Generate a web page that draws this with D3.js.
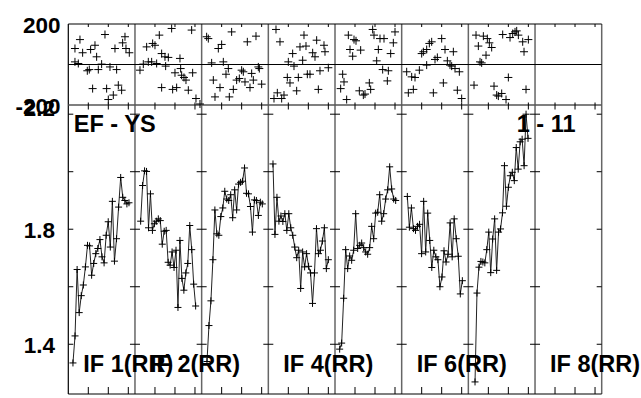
<!DOCTYPE html>
<html><head><meta charset="utf-8">
<script src="https://cdn.jsdelivr.net/npm/d3@7"></script>
<style>html,body{margin:0;padding:0;background:#fff;}svg{display:block;}</style>
</head><body>
<script>
// ---------- data ----------
const ifLabels = ["IF 1(RR)", "IF 2(RR)", "", "IF 4(RR)", "", "IF 6(RR)", "", "IF 8(RR)"];
const titleLeft = "EF - YS";
const titleRight = "1 - 11";
const topTicks = [200, -200];
const bottomTicks = [1.4, 1.6, 1.8, 2.0, 2.2];
const bottomTickLabels = ["1.4", "", "1.8", "", "2.2"];
const timeTicks = [3, 6, 9];

// bottom panel amplitudes per IF column
const amp1 = [1.335,1.429,1.660,1.510,1.569,1.606,1.669,1.744,1.742,1.640,1.681,1.715,1.733,1.764,1.704,1.683,1.779,1.826,1.738,1.897,1.689,1.767,1.877,1.980,1.911,1.900,1.888,1.892];
const amp2 = [1.828,1.952,2.003,2.001,1.805,1.923,1.796,1.819,1.828,1.836,1.830,1.748,1.793,1.796,1.685,1.675,1.721,1.667,1.727,1.528,1.761,1.629,1.588,1.648,1.681,1.813,1.729,1.609,1.533];
const amp3 = [1.340,1.465,1.551,1.694,1.867,1.784,1.779,1.844,1.874,1.932,1.905,1.900,1.920,1.840,1.937,1.867,1.957,1.963,1.967,2.013,1.925,1.923,1.879,1.790,1.902,1.900,1.848,1.894,1.888];
const amp4 = [2.027,1.782,1.911,1.828,1.846,1.827,1.854,1.796,1.854,1.805,1.779,1.738,1.701,1.727,1.594,1.721,1.669,1.715,1.671,1.648,1.542,1.648,1.802,1.715,1.727,1.759,1.805,1.663,1.694];
const amp5 = [1.383,1.404,1.560,1.729,1.663,1.707,1.692,1.727,1.854,1.733,1.744,1.752,1.736,1.721,1.713,1.736,1.810,1.767,1.856,1.859,1.920,1.828,1.854,1.905,1.937,2.017,1.940,1.905,1.900];
const amp6 = [1.914,1.807,1.874,1.802,1.796,1.810,1.817,1.715,1.897,1.721,1.856,1.761,1.667,1.727,1.704,1.694,1.600,1.634,1.725,1.686,1.713,1.822,1.704,1.836,1.767,1.706,1.575,1.621];
const amp7 = [1.269,1.578,1.668,1.688,1.686,1.683,1.729,1.790,1.649,1.766,1.836,1.657,1.790,1.801,1.857,2.021,1.880,1.946,1.986,1.998,1.969,2.084,2.009,2.104,2.113,2.021,2.200,2.116];
const amp8 = [];
const ampStart = [0.7, 0.85, 0.8, 0.7, 0.7, 0.85, 1.0, 0];
const ampEnd   = [9.1, 9.1, 9.1, 9.0, 9.1, 9.1, 8.95, 0];

// top panel residuals: times and values per IF column
const resT1 = [1.0,1.0,1.5,1.75,2.15,2.85,3.15,3.35,3.65,4.0,4.25,4.5,5.0,5.5,5.75,6.0,6.25,6.75,7.0,7.25,7.5,8.0,8.15,8.5,8.65,9.15];
const resV1 = [79,13,5,123,58,-31,-25,74,-119,95,38,-25,2,148,-119,-173,-12,-151,79,-25,-102,-127,107,137,79,58];
const resT2 = [0.75,1.25,1.75,2.0,2.5,2.65,3.0,3.25,3.65,4.0,4.0,4.5,4.6,5.0,5.5,5.65,6.0,6.25,6.75,6.85,7.0,7.35,7.65,8.0,8.5,8.65,9.15,9.75];
const resV2 = [-28,2,87,13,13,104,95,5,145,54,-114,38,-8,35,178,-123,-41,-114,30,-20,-53,-64,-77,-127,170,-41,-168,-195];
const resT3 = [0.75,1.0,1.5,1.75,2.0,2.5,2.75,3.0,3.25,3.65,4.0,4.15,4.5,4.75,5.25,5.65,6.0,6.25,6.5,6.85,7.25,7.5,7.75,8.15,8.5,8.65,9.0];
const resV3 = [137,128,8,-77,-160,79,-114,99,13,-48,-20,-160,161,-123,-77,-69,-28,-36,-86,112,-114,-44,-77,140,-12,-20,-97];
const resT4 = [0.85,1.15,1.35,1.75,2.0,2.35,2.85,3.0,3.25,3.65,3.85,4.25,4.5,4.75,5.15,5.35,5.65,5.85,6.25,6.65,7.0,7.25,7.5,7.75,8.35,8.5,9.0];
const resV4 = [-168,173,-140,112,-168,-151,-64,13,-91,54,-8,-130,-64,87,21,145,91,-48,-48,58,38,120,-123,-31,95,63,-16];
const resT5 = [0.85,1.15,1.35,1.75,2.0,2.25,2.65,2.85,3.15,3.65,3.85,4.25,4.5,5.15,5.35,5.65,5.85,6.25,6.5,6.75,7.15,7.35,7.85,8.0,8.35,8.75,9.0];
const resV5 = [-119,-48,-86,-173,145,74,41,123,117,-130,71,-151,-146,-91,-123,173,145,18,74,128,-25,128,-81,-31,54,107,161];
const resT6 = [0.75,1.0,1.5,1.75,2.0,2.65,3.0,3.25,3.75,3.75,4.15,4.5,4.75,5.0,5.35,6.0,6.25,6.5,6.85,7.25,7.5,7.75,8.0,8.35,8.65,9.0];
const resV6 = [-36,-140,-61,-123,-64,-28,54,63,74,-3,104,112,-140,25,35,128,-91,74,18,-3,-8,63,-20,-127,-36,-168];
const resT7 = [0.85,1.15,1.5,1.75,2.0,2.25,2.65,2.85,3.15,3.5,3.85,4.25,4.5,5.0,5.15,5.65,6.0,6.25,6.65,7.0,7.25,7.5,8.15,8.35,8.65,9.0];
const resV7 = [-102,145,91,13,8,140,46,128,107,84,-107,-151,-156,-143,148,-173,-64,133,153,161,166,145,112,63,-123,123];
const resT8 = [];
const resV8 = [];

// ---------- build ----------
const amps = [amp1, amp2, amp3, amp4, amp5, amp6, amp7, amp8];
const resT = [resT1, resT2, resT3, resT4, resT5, resT6, resT7, resT8];
const resV = [resV1, resV2, resV3, resV4, resV5, resV6, resV7, resV8];

const W = 641, H = 398;
const x0 = 68.3, x1 = 601.7;
const topY0 = 24, topY1 = 105, botY1 = 394;
const nCol = ifLabels.length;

const svg = d3.select("body").append("svg").attr("width", W).attr("height", H)
  .style("font-family", "'Liberation Sans', Arial, sans-serif");
svg.append("rect").attr("width", W).attr("height", H).attr("fill", "#fff");

const colBand = d3.scaleBand().domain(d3.range(nCol)).range([x0, x1]).padding(0);
const cw = colBand.bandwidth();
const yTop = d3.scaleLinear().domain([-200, 200]).range([topY1, topY0]);
const yBot = d3.scaleLinear().domain([1.227, 2.232]).range([botY1, topY1]);

const g = svg.append("g");

// column dividers
for (let i = 0; i <= nCol; i++) {
  const xx = x0 + i * cw;
  g.append("line").attr("x1", xx).attr("x2", xx).attr("y1", topY0).attr("y2", botY1)
    .attr("stroke", (i === 0) ? "#000" : "#666").attr("stroke-width", (i === 0) ? 1.2 : 1.5);
}
// horizontal frame lines
g.append("line").attr("x1", x0).attr("x2", x1).attr("y1", topY0).attr("y2", topY0).attr("stroke", "#000").attr("stroke-width", 1.2);
g.append("line").attr("x1", x0).attr("x2", x1).attr("y1", yTop(0)).attr("y2", yTop(0)).attr("stroke", "#000").attr("stroke-width", 1);
g.append("line").attr("x1", x0).attr("x2", x1).attr("y1", topY1).attr("y2", topY1).attr("stroke", "#555").attr("stroke-width", 1.5);
g.append("line").attr("x1", x0).attr("x2", x1).attr("y1", botY1).attr("y2", botY1).attr("stroke", "#000").attr("stroke-width", 1.2);

for (let c = 0; c < nCol; c++) {
  const xs = d3.scaleLinear().domain([0, 10]).range([colBand(c), colBand(c) + cw]);
  const cg = g.append("g");
  // time ticks
  timeTicks.forEach(t => {
    cg.append("line").attr("x1", xs(t)).attr("x2", xs(t)).attr("y1", topY0).attr("y2", topY0 + 3).attr("stroke", "#000");
    cg.append("line").attr("x1", xs(t)).attr("x2", xs(t)).attr("y1", topY1 - 2.5).attr("y2", topY1 + 4.5).attr("stroke", "#000");
    cg.append("line").attr("x1", xs(t)).attr("x2", xs(t)).attr("y1", botY1 - 7).attr("y2", botY1).attr("stroke", "#000");
  });
  // residual scatter
  const rp = resT[c].map((t, i) => [xs(t), yTop(resV[c][i])]);
  rp.forEach(p => {
    cg.append("path").attr("d", `M${p[0]-4},${p[1]}H${p[0]+4}M${p[0]},${p[1]-4}V${p[1]+4}`)
      .attr("stroke", "#000").attr("stroke-width", 1).attr("fill", "none");
  });
  // amplitude series
  const a = amps[c];
  if (a.length) {
    const ti = d3.scaleLinear().domain([0, a.length - 1]).range([ampStart[c], ampEnd[c]]);
    const pts = a.map((v, i) => [xs(ti(i)), yBot(v)]);
    cg.append("path").attr("d", d3.line()(pts)).attr("fill", "none").attr("stroke", "#222").attr("stroke-width", 1);
    pts.forEach(p => {
      cg.append("path").attr("d", `M${p[0]-3.5},${p[1]}H${p[0]+3.5}M${p[0]},${p[1]-3.5}V${p[1]+3.5}`)
        .attr("stroke", "#000").attr("stroke-width", 1).attr("fill", "none");
    });
  }
}

// y ticks of bottom panel on every boundary
for (let i = 0; i <= nCol; i++) {
  const xx = x0 + i * cw;
  bottomTicks.forEach(v => {
    const xa = (i === 0) ? xx : xx - 5;
    const xb = (i === nCol) ? xx : xx + 5;
    g.append("line").attr("x1", xa).attr("x2", xb).attr("y1", yBot(v)).attr("y2", yBot(v)).attr("stroke", "#000").attr("stroke-width", 1);
  });
}

// labels
const txt = (x, y, s, size, anchor) => svg.append("text").attr("x", x).attr("y", y).text(s)
  .attr("font-size", size).attr("font-weight", "bold").attr("text-anchor", anchor || "start").attr("fill", "#000");

topTicks.forEach(v => txt(60.5, yTop(v) + 8.5, String(v), 22.5, "end"));
bottomTicks.forEach((v, i) => {
  if (!bottomTickLabels[i]) return;
  const y = (v === 2.2) ? yBot(v) + 1.5 : yBot(v) + 8.5;
  txt(55, y, bottomTickLabels[i], 22.5, "end");
});
txt(x0 + 5.5, 131.5, titleLeft, 23.5);
txt(516.7, 131.5, titleRight, 23.5);
ifLabels.forEach((s, c) => { if (s) txt(colBand(c) + 15, 371.5, s, 23.5); });
</script>
</body></html>
